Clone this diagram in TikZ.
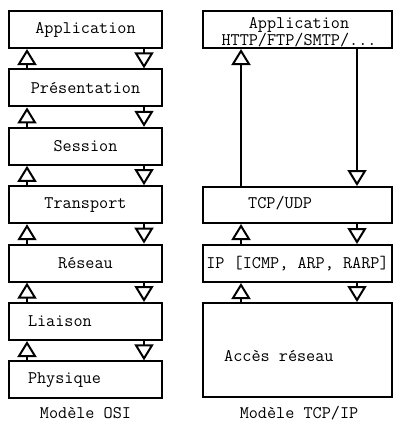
\documentclass[tikz,border=0pt]{standalone}
\usepackage{fontspec}
\usetikzlibrary{arrows.meta}
\usetikzlibrary{positioning}

\tikzset{
  layer/.style={draw=black, line width=2pt, rectangle, inner sep=0pt, minimum height=37pt,
    font=\ttfamily\fontsize{17.7}{17}\selectfont},
  osi/.style={layer, minimum width=153pt},
  osileft/.style={osi, text width=115pt, align=left},
  tcpip/.style={layer, minimum width=189pt},
  txt/.style={inner sep=0pt, font=\ttfamily\fontsize{17.7}{17}\selectfont},
  upar/.style={line width=2pt, -{Triangle[open, length=16pt, width=19pt]}}
}

\begin{document}
\begin{tikzpicture}[line cap=butt,line join=miter, x=1pt,y=-1pt]
  \useasboundingbox (0,0) rectangle (393,424);
  % modele OSI
  \foreach \n/\t/\s [count=\i from 0] in {app/Application/osi, pres/Présentation/osi,
      sess/Session/osi, trans/Transport/osi, res/Réseau/osi,
      liai/Liaison/osileft, phys/Physique/osileft}
    \node[\s] (\n) at (85.5,29.5+58.4*\i) {\t};
  \foreach \a/\b in {pres/app, sess/pres, trans/sess, res/trans, liai/res, phys/liai} {
    \draw[upar] ([xshift=-58.5pt]\a.north) -- ([xshift=-58.5pt]\b.south);
    \draw[upar] ([xshift=58.5pt]\b.south) -- ([xshift=58.5pt]\a.north);
  }
  \node[txt] (osicap) at (85.5,413) {Modèle OSI};
  % modele TCP/IP
  \node[tcpip] (tapp) at (297.5,29.5) {};
  \node[txt, align=center] (tapplbl) at (299,32.5) {Application\\HTTP/FTP/SMTP/...};
  \node[tcpip, minimum height=36pt] (ttcp) at (297.5,205) {};
  \node[txt, anchor=mid west] (ttcplbl) at (248,206) {TCP/UDP};
  \node[tcpip] (tip) at (297.5,263.5) {IP [ICMP, ARP, RARP]};
  \node[tcpip, minimum height=94pt] (tacc) at (297.5,350) {};
  \node[txt, anchor=mid west] (tacclbl) at (224,359) {Accès réseau};
  \foreach \a/\b in {ttcp/tapp, tip/ttcp, tacc/tip} {
    \draw[upar] ([xshift=-56.5pt]\a.north) -- ([xshift=-56.5pt]\b.south);
    \draw[upar] ([xshift=59.5pt]\b.south) -- ([xshift=59.5pt]\a.north);
  }
  \node[txt] (tcpcap) at (299,413) {Modèle TCP/IP};
\end{tikzpicture}
\end{document}
